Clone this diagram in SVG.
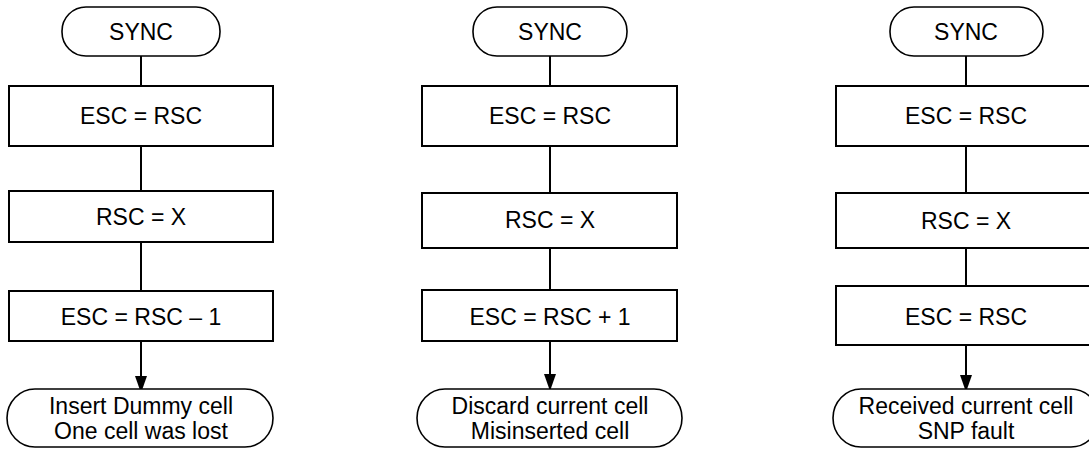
<svg xmlns="http://www.w3.org/2000/svg" width="1089" height="457" viewBox="0 0 1089 457">
<style>
.box{fill:#fff;stroke:#000;stroke-width:2}
.term{fill:#fff;stroke:#000;stroke-width:1.6}
.ln{fill:none;stroke:#000;stroke-width:2}
text{font-family:"Liberation Sans",Arial,sans-serif;font-size:23px;fill:#000;text-anchor:middle}
</style>
<defs>
<marker id="ah" markerUnits="userSpaceOnUse" markerWidth="17" markerHeight="12" refX="16" refY="6" orient="auto" viewBox="0 0 17 12">
<path d="M0,0 L17,6 L0,12 Z" fill="#000"/>
</marker>
</defs>
<g id="connectors">
<line class="ln" x1="141" y1="56" x2="141" y2="86"/>
<line class="ln" x1="141" y1="146" x2="141" y2="191"/>
<line class="ln" x1="141" y1="242" x2="141" y2="291"/>
<line class="ln" x1="141" y1="341" x2="141" y2="392" marker-end="url(#ah)"/>
<line class="ln" x1="550" y1="56" x2="550" y2="86"/>
<line class="ln" x1="550" y1="146" x2="550" y2="193"/>
<line class="ln" x1="550" y1="248" x2="550" y2="290"/>
<line class="ln" x1="550" y1="341" x2="550" y2="390" marker-end="url(#ah)"/>
<line class="ln" x1="966" y1="56" x2="966" y2="86"/>
<line class="ln" x1="966" y1="146" x2="966" y2="193"/>
<line class="ln" x1="966" y1="248" x2="966" y2="286"/>
<line class="ln" x1="966" y1="345" x2="966" y2="391" marker-end="url(#ah)"/>
</g>
<g id="sync1"><rect class="term" x="62" y="7" width="158" height="49" rx="24" ry="24"/><text x="141" y="40">SYNC</text></g>
<g id="esc1"><rect class="box" x="9" y="86" width="264" height="60"/><text x="141" y="124">ESC = RSC</text></g>
<g id="rsc1"><rect class="box" x="9" y="191" width="264" height="51"/><text x="141" y="225">RSC = X</text></g>
<g id="escm1"><rect class="box" x="9" y="291" width="264" height="50"/><text x="141" y="325">ESC = RSC – 1</text></g>
<g id="end1"><rect class="term" x="7" y="389" width="266" height="58" rx="28" ry="29"/><text x="141" y="414">Insert Dummy cell</text><text x="141" y="439">One cell was lost</text></g>
<g id="sync2"><rect class="term" x="473" y="7" width="154" height="49" rx="24" ry="24"/><text x="550" y="40">SYNC</text></g>
<g id="esc2"><rect class="box" x="422" y="86" width="255" height="60"/><text x="550" y="124">ESC = RSC</text></g>
<g id="rsc2"><rect class="box" x="422" y="193" width="255" height="55"/><text x="550" y="228">RSC = X</text></g>
<g id="escp2"><rect class="box" x="422" y="290" width="255" height="51"/><text x="550" y="325">ESC = RSC + 1</text></g>
<g id="end2"><rect class="term" x="417" y="389" width="265" height="58" rx="28" ry="29"/><text x="550" y="414">Discard current cell</text><text x="550" y="439">Misinserted cell</text></g>
<g id="sync3"><rect class="term" x="890" y="7" width="153" height="49" rx="24" ry="24"/><text x="966" y="40">SYNC</text></g>
<g id="esc3"><rect class="box" x="836" y="86" width="262" height="60"/><text x="966" y="124">ESC = RSC</text></g>
<g id="rsc3"><rect class="box" x="836" y="193" width="262" height="55"/><text x="966" y="229">RSC = X</text></g>
<g id="esce3"><rect class="box" x="836" y="286" width="262" height="59"/><text x="966" y="325">ESC = RSC</text></g>
<g id="end3"><rect class="term" x="833" y="389" width="266" height="58" rx="28" ry="29"/><text x="966" y="414">Received current cell</text><text x="966" y="439">SNP fault</text></g>
</svg>
